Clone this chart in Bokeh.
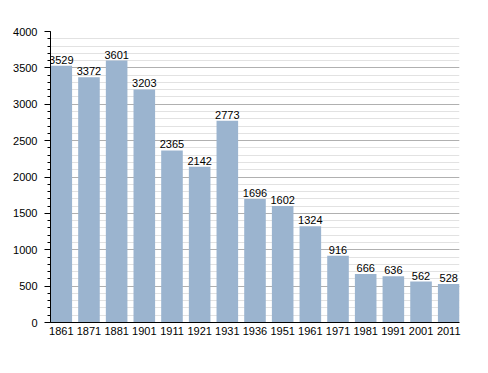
from bokeh.plotting import figure
from bokeh.models import Range1d, FixedTicker, SingleIntervalTicker, ColumnDataSource
from bokeh.embed import file_html
from bokeh.resources import INLINE
from bokeh.core.properties import value

years = ["1861", "1871", "1881", "1901", "1911", "1921", "1931", "1936",
         "1951", "1961", "1971", "1981", "1991", "2001", "2011"]
population = [3529, 3372, 3601, 3203, 2365, 2142, 2773, 1696,
              1602, 1324, 916, 666, 636, 562, 528]

bar_w = 0.78
xs = list(range(len(years)))
src = ColumnDataSource(dict(x=xs, top=population, label=[str(v) for v in population]))

p = figure(width=478, height=363, output_backend="svg", toolbar_location=None,
           x_range=Range1d(-bar_w / 2, len(years) - 1 + bar_w / 2),
           y_range=Range1d(0, 4000),
           min_border_left=50, min_border_right=19, min_border_top=31, min_border_bottom=41)
p.outline_line_color = None
p.background_fill_color = "white"

p.vbar(x="x", top="top", width=bar_w, bottom=0, source=src,
       fill_color="#9bb4cf", line_color=None)

p.text(x="x", y="top", text="label", source=src, text_align="center",
       text_baseline="alphabetic", y_offset=-6, text_font=value("Liberation Sans"),
       text_font_size="11px", text_color="black")

# axes
p.xaxis.ticker = FixedTicker(ticks=xs)
p.xaxis.major_label_overrides = {i: y for i, y in enumerate(years)}
p.xaxis.major_tick_out = 0
p.xaxis.major_tick_in = 0
p.xaxis.minor_tick_out = 0
p.xaxis.major_label_standoff = 4
p.xaxis.axis_line_color = "black"

p.yaxis.ticker = SingleIntervalTicker(interval=500, num_minor_ticks=5)
p.yaxis.major_tick_out = 6
p.yaxis.major_tick_in = 0
p.yaxis.minor_tick_out = 3
p.yaxis.minor_tick_in = 0
p.yaxis.major_label_standoff = 7
p.yaxis.axis_line_color = "black"

for ax in (p.xaxis, p.yaxis):
    ax.major_label_text_font = "Liberation Sans"
    ax.major_label_text_font_size = "11px"
    ax.major_label_text_color = "black"

p.xgrid.grid_line_color = None
p.ygrid.grid_line_color = "#b0b0b0"
p.ygrid.minor_grid_line_color = "#e2e2e2"

open("out.html", "w").write(file_html(p, INLINE))
